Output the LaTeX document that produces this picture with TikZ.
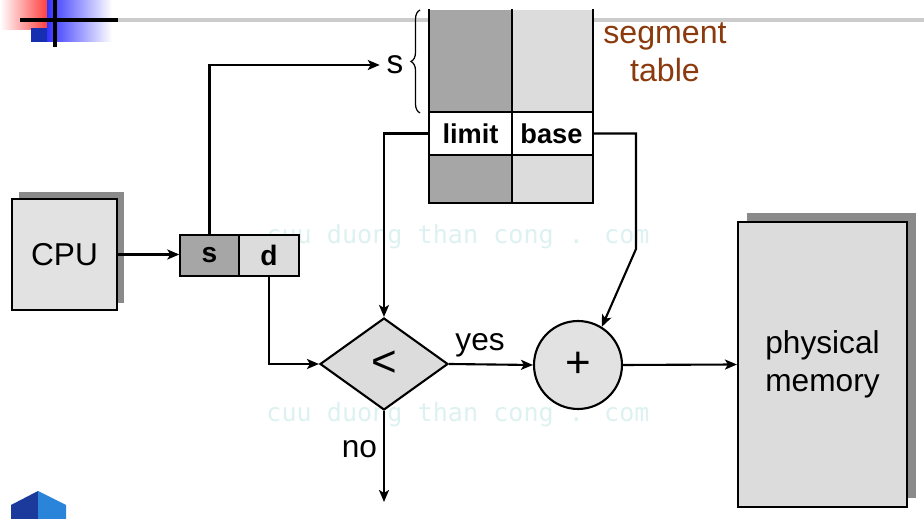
\documentclass[tikz,border=0pt]{standalone}
\usepackage{fontspec}
\setmainfont{Liberation Sans}
\newfontfamily\wmfont{DejaVu Sans Mono}
\usetikzlibrary{arrows.meta,shapes.geometric,shadows,decorations.pathreplacing}
\definecolor{darkcell}{HTML}{A6A6A6}
\definecolor{lightcell}{HTML}{DCDCDC}
\definecolor{boxfill}{HTML}{E2E2E2}
\definecolor{shadowgray}{HTML}{8A8A8A}
\definecolor{tablebrown}{HTML}{8B3A0E}
\definecolor{wmcyan}{HTML}{DDF1F1}
\definecolor{logonavy}{HTML}{1B3A9C}
\definecolor{logoblue}{HTML}{2A85DA}
\begin{document}
\begin{tikzpicture}[x=0.02cm,y=-0.02cm,
    >={Stealth[length=0.24cm,width=0.2cm,inset=0.06cm]},
    line width=1.2pt,
    font=\fontsize{18}{21.5}\selectfont,
    box/.style={draw,inner sep=0pt,fill=boxfill},
    shadowed/.style={drop shadow={shadow xshift=#1,shadow yshift=#1,fill=shadowgray,opacity=1}},
    cell/.style={draw,inner sep=0pt,line width=0.8pt,minimum height=0.82cm,font=\bfseries\fontsize{16}{18}\selectfont},
    col/.style={inner sep=0pt,minimum width=1.62cm},
    hdr/.style={col,fill=white,minimum height=0.82cm,font=\bfseries\fontsize{15.5}{18}\selectfont},
    sign/.style={font=\fontsize{25}{28}\selectfont},
    wm/.style={text=wmcyan,font=\wmfont\fontsize{14.3}{16}\selectfont}]
\useasboundingbox (0,0) rectangle (924,519);
\node[wm] (wm1) at (458,237) {cuu duong than cong . com};
\node[wm] (wm2) at (458,415) {cuu duong than cong . com};
\shade[left color=white,right color=red!75] (0,0) rectangle (47,30);
\fill[logonavy!80!blue] (31,28) rectangle (47,42);
\shade[left color=blue!80,right color=white] (47,0) rectangle (112,42);
\draw[gray!40,line width=2.5pt] (110,20) -- (924,20);
\draw[line width=2.5pt] (20,20) -- (118,20);
\draw[line width=2.5pt] (55,0) -- (55,47);
\fill[logonavy] (11,505) -- (38,491) -- (38,519) -- (11,519) -- cycle;
\fill[logoblue] (38,491) -- (66,505) -- (66,519) -- (38,519) -- cycle;
\node[col,fill=darkcell,minimum height=2.06cm] (t1) at (470.5,61.5) {};
\node[col,fill=lightcell,minimum height=2.06cm] (t2) at (551.5,61.5) {};
\node[hdr] (lim) at (470.5,133.5) {limit};
\node[hdr] (bas) at (551.5,133.5) {base};
\node[col,fill=darkcell,minimum height=0.96cm] (b1) at (470.5,178) {};
\node[col,fill=lightcell,minimum height=0.96cm] (b2) at (551.5,178) {};
\draw[line width=0.7pt] (t1.north west) -- (b1.south west) -- (b2.south east) -- (t2.north east);
\draw[line width=0.7pt] (t1.north east) -- (b1.south east);
\draw[line width=0.7pt] (lim.north west) -- (bas.north east);
\draw[line width=0.7pt] (lim.south west) -- (bas.south east);
\draw[decorate,decoration={brace,amplitude=0.18cm},line width=0.7pt] (420,113) -- (420,10);
\node[font=\fontsize{19}{22}\selectfont] (slbl) at (395,65) {s};
\node[text=tablebrown,align=center,font=\fontsize{18.3}{21.5}\selectfont] (title) at (665,52) {segment\\table};
\node[box,shadowed=0.14cm,minimum width=2.1cm,minimum height=2.22cm] (cpu) at (64.5,254.5) {CPU};
\node[cell,fill=darkcell,minimum width=1.18cm] (s) at (209.5,255.5) {s};
\node[cell,fill=lightcell,minimum width=1.2cm] (d) at (269,255.5) {d};
\node[diamond,draw,fill=lightcell,inner sep=0pt,minimum width=2.56cm,minimum height=1.84cm,sign] (cmp) at (384,364) {<};
\node[circle,draw,fill=boxfill,inner sep=0pt,minimum size=1.76cm,sign] (add) at (578,365) {+};
\node[box,fill=lightcell,shadowed=0.18cm,minimum width=3.38cm,minimum height=5.7cm,align=center] (mem) at (822.5,364.5) {physical\\memory};
\coordinate (bend) at (636,249);
\coordinate (out) at (384,502);
\draw[->] (cpu.east) -- (cpu.east -| s.west);
\draw[->] (s.north) |- (slbl.west);
\draw[->] (d.south) |- (cmp.west);
\draw[->] (lim.west) -| (cmp.north);
\draw[->] (bas.east) -| (bend) -- (add.58);
\draw[->] (cmp.east) -- node[above,pos=0.37] {yes} (add.west);
\draw[->] (cmp.south) -- node[left,pos=0.42] {no} (out);
\draw[->] (add.east) -- (mem.west);
\end{tikzpicture}
\end{document}
